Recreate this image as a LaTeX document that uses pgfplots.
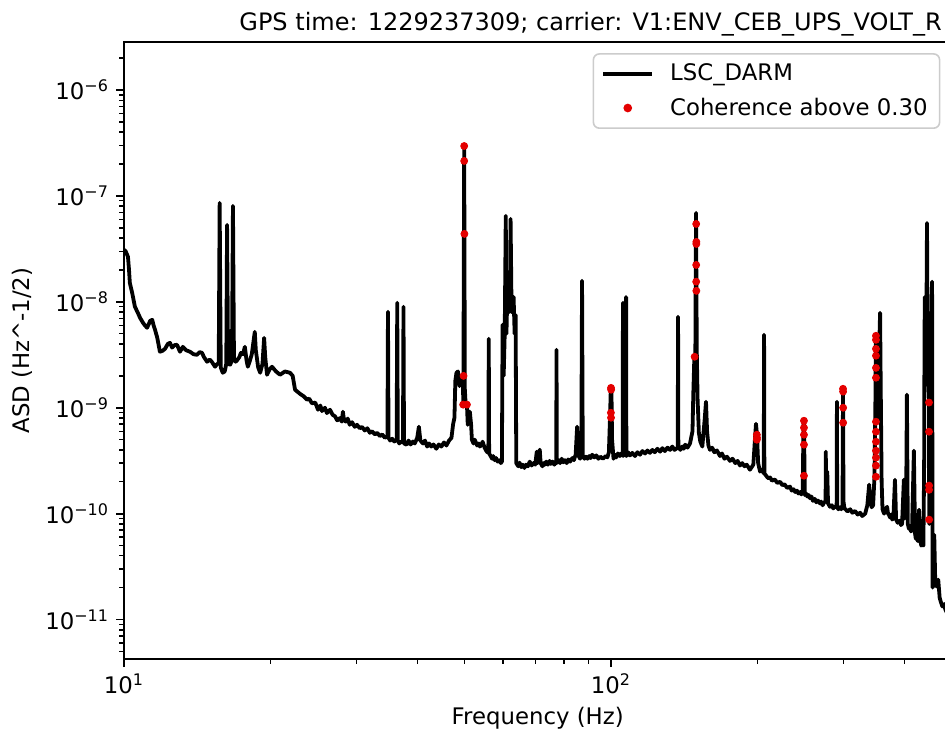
\documentclass[border=0pt]{standalone}
\usepackage{fontspec}
\setmainfont{DejaVu Sans}
\usepackage{pgfplots}
\pgfplotsset{compat=1.18}
\definecolor{dotred}{RGB}{228,0,0}
\definecolor{leggray}{RGB}{204,204,204}
\newcommand\lbl{\fontsize{11.4pt}{13.7pt}\selectfont}
\newcommand\ttl{\fontsize{12pt}{14.4pt}\selectfont}
\newcommand\ex[1]{\textsuperscript{#1}}
\begin{document}
\begin{tikzpicture}
\useasboundingbox (-62pt,-37.5pt) rectangle (410.5pt,329.5pt);
\clip (-62pt,-37.5pt) rectangle (410.5pt,329.5pt);
\begin{axis}[
  at={(0pt,0pt)}, anchor=south west,
  scale only axis, width=413.7pt, height=308.5pt,
  xmode=log, ymode=log,
  xmin=10, xmax=500, ymin=4.24e-12, ymax=2.84e-6,
  axis line style={line width=0.9pt},
  tick align=outside, tick pos=left,
  major tick length=4pt, minor tick length=2.3pt,
  tick style={black, line width=0.9pt},
  minor tick style={black, line width=0.7pt},
  xtick={10,100}, xticklabels={10\ex{1},10\ex{2}},
  minor xtick={20,30,40,50,60,70,80,90,200,300,400},
  ytick={1e-11,1e-10,1e-9,1e-8,1e-7,1e-6},
  yticklabels={10\ex{−11},10\ex{−10},10\ex{−9},10\ex{−8},10\ex{−7},10\ex{−6}},
  minor ytick={5e-12,6e-12,7e-12,8e-12,9e-12,
    2e-11,3e-11,4e-11,5e-11,6e-11,7e-11,8e-11,9e-11,
    2e-10,3e-10,4e-10,5e-10,6e-10,7e-10,8e-10,9e-10,
    2e-9,3e-9,4e-9,5e-9,6e-9,7e-9,8e-9,9e-9,
    2e-8,3e-8,4e-8,5e-8,6e-8,7e-8,8e-8,9e-8,
    2e-7,3e-7,4e-7,5e-7,6e-7,7e-7,8e-7,9e-7,2e-6},
  tick label style={font=\lbl},
  xlabel={Frequency (Hz)}, ylabel={ASD (Hz\textasciicircum-1/2)},
  every axis x label/.style={at={(axis description cs:0.5,-0.0956)}, anchor=center, font=\lbl},
  every axis y label/.style={at={(axis description cs:-0.1233,0.5)}, rotate=90, anchor=center, font=\lbl},
  title={GPS time: 1229237309; carrier: V1:ENV\_CEB\_UPS\_VOLT\_R},
  every axis title/.style={at={(axis description cs:0.1390,1)}, anchor=base west, inner sep=0pt, yshift=6pt, font=\ttl},
  legend cell align=left,
  legend style={at={(axis description cs:0.9867,0.982)}, anchor=north east,
    draw=leggray, line width=0.8pt, rounded corners=3pt, fill=white,
    font=\lbl, inner xsep=4pt, inner ysep=3pt, row sep=3pt,
    /tikz/every odd column/.append style={column sep=6pt}},
  legend image code/.code={\draw[mark repeat=2,mark phase=2,#1] plot coordinates {(0pt,0pt) (12.25pt,0pt) (24.5pt,0pt)};},
]
\addplot[black, line width=1.9pt, line join=round] coordinates {
(10,3.10e-8) (10.08,3.0e-8) (10.19,2.66e-8) (10.24,2.0e-8) (10.28,1.51e-8)
(10.40,1.2e-8) (10.53,8.98e-9) (10.66,8.0e-9) (10.79,7.06e-9) (10.95,6.3e-9)
(11.04,6.0e-9) (11.15,5.69e-9) (11.25,6.2e-9) (11.31,6.6e-9) (11.43,6.76e-9)
(11.50,6.0e-9) (11.58,5.45e-9) (11.70,4.6e-9) (11.85,3.38e-9) (12.0,3.45e-9)
(12.14,3.6e-9) (12.30,4.0e-9) (12.43,4.10e-9) (12.55,3.7e-9) (12.70,3.9e-9)
(12.85,3.93e-9) (13.03,3.38e-9) (13.21,3.76e-9) (13.40,3.5e-9) (13.66,3.38e-9)
(13.90,3.2e-9) (14.12,3.16e-9) (14.30,3.35e-9) (14.46,3.30e-9) (14.60,3.0e-9)
(14.81,2.72e-9) (15.00,2.85e-9) (15.16,2.70e-9) (15.38,2.44e-9) (15.55,2.6e-9)
(15.65,2.6e-9) (15.72,8.6e-8) (15.80,2.4e-9) (15.95,2.14e-9) (16.10,2.2e-9)
(16.22,2.6e-9) (16.28,5.33e-8) (16.36,2.6e-9) (16.52,2.55e-9) (16.66,2.8e-9)
(16.74,8.05e-8) (16.82,2.9e-9) (16.95,2.72e-9) (17.06,2.8e-9) (17.25,3.0e-9)
(17.38,3.3e-9) (17.55,3.2e-9) (17.71,3.76e-9) (17.85,2.8e-9) (17.96,2.44e-9)
(18.10,2.7e-9) (18.30,3.2e-9) (18.56,5.21e-9) (18.65,3.5e-9) (18.86,2.4e-9)
(19.04,2.14e-9) (19.25,2.6e-9) (19.40,4.57e-9) (19.50,3.0e-9) (19.67,2.05e-9)
(19.90,2.3e-9) (20.13,2.44e-9) (20.52,2.2e-9) (20.91,2.05e-9) (21.40,2.2e-9)
(21.92,2.14e-9) (22.2,2.0e-9) (22.45,1.48e-9) (23.0,1.35e-9) (23.4,1.28e-9) (23.76,1.19e-9)
(24.0,1.22e-9) (24.32,1.1e-9) (24.7,1.12e-9)
(25.02,9.58e-10) (25.3,1.05e-9) (25.5,9.3e-10) (25.86,1.0e-9) (26.1,8.9e-10)
(26.48,9.58e-10) (26.8,8.6e-10) (27.12,8.3e-10) (27.4,7.6e-10) (27.77,8.0e-10)
(28.0,7.4e-10) (28.15,9.17e-10) (28.3,7.6e-10) (28.54,7.4e-10) (28.8,7.9e-10)
(29.07,6.91e-10) (29.4,7.3e-10) (29.77,6.6e-10) (30.1,6.9e-10) (30.49,6.4e-10)
(30.8,6.6e-10) (31.22,6.1e-10) (31.6,6.4e-10) (31.97,5.8e-10) (32.3,6.0e-10)
(32.75,5.6e-10) (33.1,5.8e-10) (33.53,5.4e-10) (33.9,5.6e-10) (34.34,5.2e-10)
(34.75,5.4e-10) (34.84,8.05e-9) (34.93,5.2e-10)
(35.2,4.9e-10) (35.53,5.1e-10) (35.9,4.8e-10) (36.30,5.0e-10) (36.40,9.79e-9) (36.50,4.9e-10) (36.75,4.6e-10) (37.00,4.8e-10)
(37.40,4.7e-10) (37.49,8.98e-9) (37.58,4.6e-10)
(38.04,4.48e-10) (38.4,4.9e-10) (38.79,4.5e-10) (39.2,4.8e-10) (39.55,4.6e-10)
(40.0,5.2e-10) (40.32,6.62e-10) (40.6,4.9e-10) (41.11,4.6e-10) (41.5,4.9e-10)
(41.92,4.3e-10) (42.3,4.6e-10) (42.74,4.3e-10) (43.2,4.5e-10) (43.78,4.1e-10)
(44.3,4.5e-10) (44.84,4.3e-10) (45.4,4.7e-10) (45.92,4.4e-10) (46.5,4.9e-10)
(47.03,5.2e-10) (47.4,7.0e-10) (47.7,8.05e-10) (47.9,1.8e-9)
(48.16,2.14e-9) (48.5,2.2e-9) (48.85,1.6e-9) (49.2,1.9e-9) (49.6,2.0e-9)
(49.75,1.1e-9) (49.95,2.96e-7) (50.1,1.5e-9) (50.3,1.07e-9) (50.6,1.07e-9)
(50.8,6.9e-10) (51.3,9.17e-10) (51.6,7.0e-10) (51.8,4.99e-10)
(52.2,4.6e-10) (52.5,5.0e-10) (53.1,4.4e-10) (53.5,4.6e-10) (53.8,4.3e-10)
(54.2,4.5e-10) (54.5,4.78e-10) (55.0,4.2e-10) (55.3,4.0e-10) (55.7,3.8e-10)
(56.0,3.9e-10) (56.1,4.48e-9) (56.2,3.7e-10) (56.6,3.5e-10) (57.0,3.3e-10)
(57.3,3.5e-10) (57.7,3.2e-10) (58.1,3.35e-10) (58.5,3.1e-10) (59.1,3.2e-10)
(59.4,3.0e-10) (59.7,3.1e-10)
(59.9,6.07e-9) (60.2,2e-9) (60.5,5e-9) (60.8,6.48e-8) (61.0,5e-9) (61.2,1e-8)
(61.5,1.2e-8) (61.8,8e-9) (62.0,1.0e-8) (62.2,6.07e-8) (62.5,8e-9) (62.8,1.0e-8)
(63.1,1.11e-8) (63.4,5e-9) (63.7,7.54e-9) (63.9,3e-10)
(64.5,2.8e-10) (64.9,3.03e-10) (65.4,2.75e-10) (65.9,2.9e-10) (66.4,2.7e-10)
(66.9,2.9e-10) (67.5,2.8e-10) (68.1,3.1e-10) (68.7,2.85e-10) (69.3,3.0e-10)
(69.9,2.9e-10) (70.4,3.85e-10) (70.7,3.0e-10) (71.1,3.2e-10) (71.4,4.02e-10)
(71.7,3.0e-10) (72.3,2.8e-10) (72.7,3.0e-10) (73.1,2.9e-10) (73.6,3.1e-10)
(74.2,2.9e-10) (74.8,3.15e-10) (75.3,2.95e-10) (75.9,3.1e-10) (76.5,2.9e-10)
(77.2,3.1e-10) (77.3,3.53e-9) (77.4,3.0e-10) (78.0,3.2e-10) (78.6,3.0e-10)
(79.2,3.3e-10) (79.8,3.05e-10) (80.4,3.2e-10) (81.1,3.0e-10) (81.7,3.25e-10)
(82.4,3.1e-10) (83.3,3.35e-10) (83.9,3.2e-10) (84.6,3.6e-10) (85.2,6.62e-10)
(85.8,3.5e-10) (86.4,3.3e-10) (86.9,3.6e-10) (87.2,1.58e-8) (87.5,3.5e-10)
(88.2,3.3e-10) (88.8,3.45e-10) (89.5,3.3e-10) (90.2,3.5e-10) (90.8,3.35e-10)
(91.5,3.6e-10) (92.4,3.4e-10) (93.3,3.55e-10) (94.2,3.3e-10) (95.1,3.45e-10)
(96.3,3.3e-10) (97.5,3.5e-10) (98.3,3.4e-10) (99.0,3.8e-10) (99.6,9.0e-10)
(99.9,1.54e-9) (100.2,1.5e-9) (100.5,5.0e-10) (101.2,3.3e-10) (101.9,3.6e-10)
(102.5,3.4e-10) (103.3,3.7e-10) (104.3,3.5e-10) (105.0,3.7e-10) (105.7,3.6e-10)
(105.8,9.79e-9) (105.95,3.5e-10) (106.6,3.8e-10) (107.25,3.6e-10) (107.4,1.11e-8)
(107.55,3.5e-10) (108.4,3.8e-10) (109.4,3.55e-10) (110.6,3.75e-10) (112,3.5e-10)
(113.3,3.8e-10) (114.7,3.6e-10) (116,3.9e-10) (117.5,3.7e-10) (118.8,3.95e-10)
(120.2,3.75e-10) (121.6,4.0e-10) (123,3.8e-10) (124.5,4.1e-10) (126.1,3.85e-10)
(127.5,4.15e-10) (129,3.9e-10) (130.6,4.2e-10) (132.2,4.0e-10) (133.6,4.3e-10)
(135,4.0e-10) (137.1,4.2e-10) (137.3,7.22e-9) (137.5,4.3e-10) (138.8,4.0e-10)
(140,4.3e-10) (141,4.1e-10) (142.0,4.48e-10) (143.6,4.2e-10) (145.3,4.6e-10)
(147.0,6.0e-10) (147.6,1.4e-9) (148.3,3.03e-9)
(149.0,3.2e-9) (149.5,6.92e-8) (150.0,3.5e-9) (150.6,1.2e-9) (151.5,5.81e-10)
(152.5,4.8e-10) (154.0,4.3e-10) (155.8,8.0e-10) (156.7,1.14e-9) (157.5,6.0e-10)
(158.5,4.4e-10) (159.7,4.0e-10) (161.3,4.2e-10) (163,3.8e-10) (165,3.95e-10)
(167.4,3.5e-10) (169,3.7e-10) (171,3.3e-10) (173,3.45e-10) (175.5,3.15e-10)
(177.7,3.3e-10) (180,3.0e-10) (182,3.15e-10) (184.0,2.85e-10) (186,3.0e-10)
(188,2.8e-10) (190,2.9e-10) (192.9,2.6e-10) (194.5,2.75e-10) (196.0,2.9e-10)
(197.5,5.0e-10) (198.5,7.06e-10) (199.5,5.5e-10) (200.5,3.0e-10)
(202.3,2.5e-10) (204,2.6e-10) (205.9,2.4e-10) (206.2,4.89e-9) (206.5,2.4e-10)
(208,2.3e-10) (209.5,2.2e-10) (211,2.15e-10) (212.1,2.2e-10) (214,2.05e-10)
(217,2.1e-10) (219.5,1.95e-10) (222.4,2.0e-10) (225,1.85e-10) (227,1.9e-10)
(230,1.75e-10) (233.1,1.8e-10) (235,1.65e-10) (237,1.7e-10) (239,1.6e-10)
(240.9,1.65e-10) (242.5,1.55e-10) (244.5,1.6e-10) (246,1.52e-10) (247.5,1.6e-10)
(248.5,7.71e-10) (249.0,7.5e-10) (250.0,1.5e-10) (251.5,1.55e-10) (253,1.45e-10)
(254.5,1.5e-10) (256.2,1.4e-10) (258,1.45e-10) (259.8,1.32e-10) (262,1.38e-10)
(264,1.28e-10) (266,1.33e-10) (268.6,1.25e-10) (270,1.3e-10) (272,1.2e-10)
(274,1.28e-10) (275.8,1.3e-10) (276.1,3.85e-10) (276.4,1.3e-10) (278,2.49e-10)
(279,1.25e-10) (281.6,1.16e-10) (284,1.2e-10) (286,1.12e-10) (288,1.17e-10)
(290.6,1.15e-10) (291.0,1.14e-9) (291.4,1.15e-10) (293,1.1e-10) (295.3,1.15e-10)
(297,1.1e-10) (298.8,1.2e-10) (299.5,1.54e-9) (300.2,1.3e-10) (301.5,1.12e-10)
(303,1.1e-10) (306,1.05e-10) (309.8,1.1e-10) (313,1.02e-10) (317,1.06e-10)
(321,0.98e-10) (324.8,1.02e-10) (328,0.95e-10) (332.6,1.0e-10) (336,1.2e-10)
(338.9,1.88e-10) (341,1.3e-10) (343,1.15e-10) (345.3,1.2e-10)
(347.5,2.2e-10) (349.0,1.0e-9) (349.8,4.8e-9) (350.6,4.0e-9)
(351.5,1.0e-9) (353,8.0e-10) (355,3.0e-9) (356.9,7.88e-9) (358.0,1.5e-9)
(359.5,2.0e-10) (361,1.1e-10) (363.7,1.0e-10) (366,1.1e-10) (369.0,1.16e-10)
(370.5,1.0e-10) (372,9.8e-11) (374,9.2e-11) (375.8,9.8e-11) (378,8.8e-11)
(380,9.0e-11) (382.9,2.09e-10) (385,8.8e-11) (388,8.2e-11) (391.8,8.6e-11)
(394,7.8e-11) (396,8.0e-11) (399.4,2.09e-10) (401,9e-11) (403.5,1.0e-10)
(405.1,1.33e-9) (406.8,8.0e-11) (409,7.2e-11) (410.9,7.5e-11) (413,6.8e-11)
(415,7.0e-11) (418.7,3.93e-10) (421,6.5e-11) (422.5,5.8e-11) (424,6.0e-11)
(426.7,5.5e-11) (429,1.09e-10) (432,5.5e-11) (433.5,5.0e-11) (435,5.1e-11)
(438,5.0e-11) (439.5,3e-10) (440.3,5e-9) (441.0,1.11e-8) (441.8,2e-9)
(442.8,5e-9) (443.5,3e-9) (444.5,1e-8) (445.5,5.56e-8) (446.5,8e-9)
(447.5,3e-9) (448.5,2e-9) (449.7,1.12e-9) (450.2,8e-11) (451,4e-10)
(452.5,3e-9) (454,8e-9) (455,6e-9) (456.3,1.55e-8) (457.5,2.0e-11)
(459,3.0e-11) (461,6.33e-11) (463,2.5e-11) (466,2.05e-11) (469.8,2.38e-11)
(473,1.6e-11) (476,1.45e-11) (479,1.33e-11) (483,1.4e-11) (486,1.24e-11)
(490,1.15e-11) (497,1.1e-11)
};
\addlegendentry{LSC\_DARM}
\addplot[only marks, mark=*, mark size=1.75pt, color=dotred, mark options={draw=dotred, fill=dotred}] coordinates {
(49.95,2.96e-7) (49.95,2.14e-7) (50.0,4.38e-8) (49.8,2.0e-9) (49.7,1.07e-9) (50.6,1.07e-9)
(100.0,1.54e-9) (100.05,1.48e-9) (99.95,8.97e-10) (100.0,8.05e-10)
(149.6,5.44e-8) (149.7,3.68e-8) (149.7,3.52e-8) (149.6,2.23e-8) (149.6,1.55e-8) (149.7,1.27e-8) (148.5,3.03e-9)
(199.3,5.56e-10) (199.4,5.2e-10) (199.3,4.99e-10)
(249.0,7.54e-10) (249.0,6.48e-10) (249.0,5.56e-10) (249.0,4.48e-10) (249.0,2.28e-10)
(299.5,1.51e-9) (299.6,1.42e-9) (299.7,1.0e-9) (299.7,7.22e-10)
(350.0,4.78e-9) (350.0,4.38e-9) (350.0,3.60e-9) (350.0,3.10e-9) (350.0,2.38e-9) (350.0,1.92e-9)
(350.0,7.38e-10) (350.0,5.94e-10) (350.0,4.78e-10) (350.0,3.93e-10) (350.0,3.38e-10) (350.0,2.84e-10) (350.0,2.23e-10)
(449.7,1.12e-9) (449.8,5.94e-10) (449.9,1.84e-10) (449.9,1.68e-10) (450.0,8.78e-11)
};
\addlegendentry{Coherence above 0.30}
\end{axis}
\end{tikzpicture}
\end{document}
